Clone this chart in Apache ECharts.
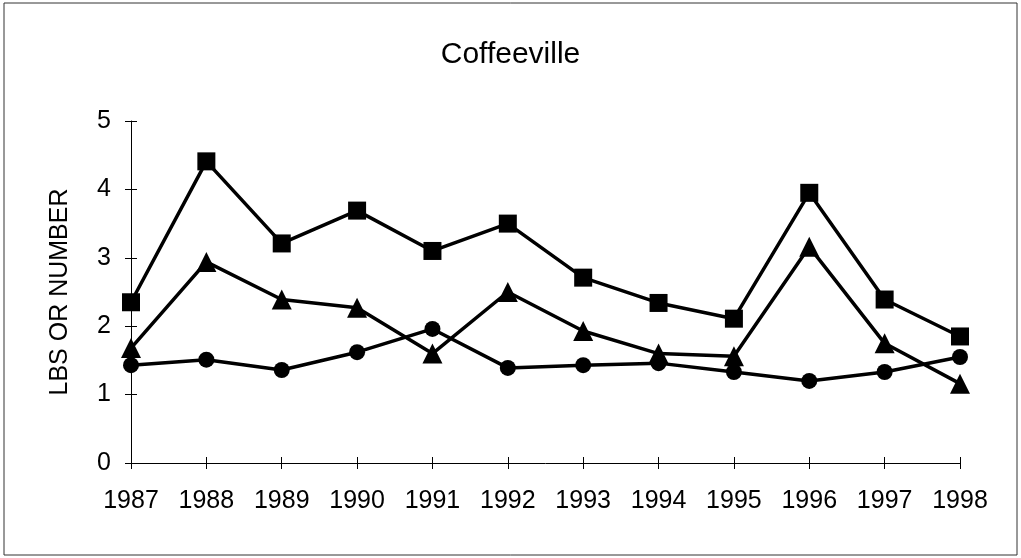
<!DOCTYPE html>
<html>
<head>
<meta charset="utf-8">
<script src="https://cdn.jsdelivr.net/npm/echarts@6/dist/echarts.min.js"></script>
<style>
  html, body { margin: 0; padding: 0; background: #fff; }
  #chart { width: 1021px; height: 558px; }
</style>
</head>
<body>
<div id="chart"></div>
<script>
// data
const years = ['1987','1988','1989','1990','1991','1992','1993','1994','1995','1996','1997','1998'];
const squareVals = [2.35, 4.41, 3.21, 3.69, 3.10, 3.50, 2.71, 2.34, 2.11, 3.95, 2.39, 1.85];
const triangleVals = [1.68, 2.94, 2.39, 2.27, 1.60, 2.50, 1.93, 1.60, 1.56, 3.16, 1.75, 1.16];
const circleVals = [1.43, 1.51, 1.36, 1.62, 1.96, 1.39, 1.43, 1.46, 1.33, 1.20, 1.33, 1.55];

const myChart = echarts.init(document.getElementById('chart'));

const font = 'Liberation Sans, Arial, sans-serif';

function lineSeries(data, symbol, size) {
  return {
    type: 'line',
    data: data,
    symbol: symbol,
    symbolSize: size,
    showSymbol: true,
    lineStyle: { color: '#000', width: 3.5 },
    itemStyle: { color: '#000' },
    animation: false
  };
}

const option = {
  backgroundColor: '#fff',
  title: {
    text: 'Coffeeville',
    left: 'center',
    top: 35,
    textStyle: { fontFamily: font, fontSize: 30, fontWeight: 'normal', color: '#000' }
  },
  grid: { left: 131, right: 61, top: 121, bottom: 95 },
  graphic: [{
    type: 'rect',
    shape: { x: 4, y: 3, width: 1013, height: 552 },
    style: { fill: 'none', stroke: '#333', lineWidth: 1 }
  }],
  xAxis: [{
    type: 'category',
    data: years,
    boundaryGap: false,
    axisLine: { lineStyle: { color: '#000', width: 1 } },
    axisTick: { show: true, inside: false, length: 6, lineStyle: { color: '#000' } },
    axisLabel: { fontFamily: font, fontSize: 25, color: '#000', margin: 26 }
  }, {
    type: 'category',
    data: years,
    position: 'bottom',
    boundaryGap: false,
    axisLine: { show: false },
    axisTick: { show: true, inside: true, length: 6, lineStyle: { color: '#000' } },
    axisLabel: { show: false }
  }],
  yAxis: [{
    type: 'value',
    min: 0,
    max: 5,
    interval: 1,
    name: 'LBS OR NUMBER',
    nameLocation: 'middle',
    nameGap: 58,
    nameTextStyle: { fontFamily: font, fontSize: 25, color: '#000' },
    axisLine: { show: true, lineStyle: { color: '#000', width: 1 } },
    axisTick: { show: true, inside: false, length: 6, lineStyle: { color: '#000' } },
    splitLine: { show: false },
    axisLabel: { fontFamily: font, fontSize: 25, color: '#000', margin: 20 }
  }, {
    type: 'value',
    min: 0,
    max: 5,
    interval: 1,
    position: 'left',
    axisLine: { show: false },
    axisTick: { show: true, inside: true, length: 6, lineStyle: { color: '#000' } },
    splitLine: { show: false },
    axisLabel: { show: false }
  }],
  series: [
    lineSeries(squareVals, 'rect', 18),
    lineSeries(triangleVals, 'triangle', 20),
    lineSeries(circleVals, 'circle', 16)
  ]
};

myChart.setOption(option);
</script>
</body>
</html>
